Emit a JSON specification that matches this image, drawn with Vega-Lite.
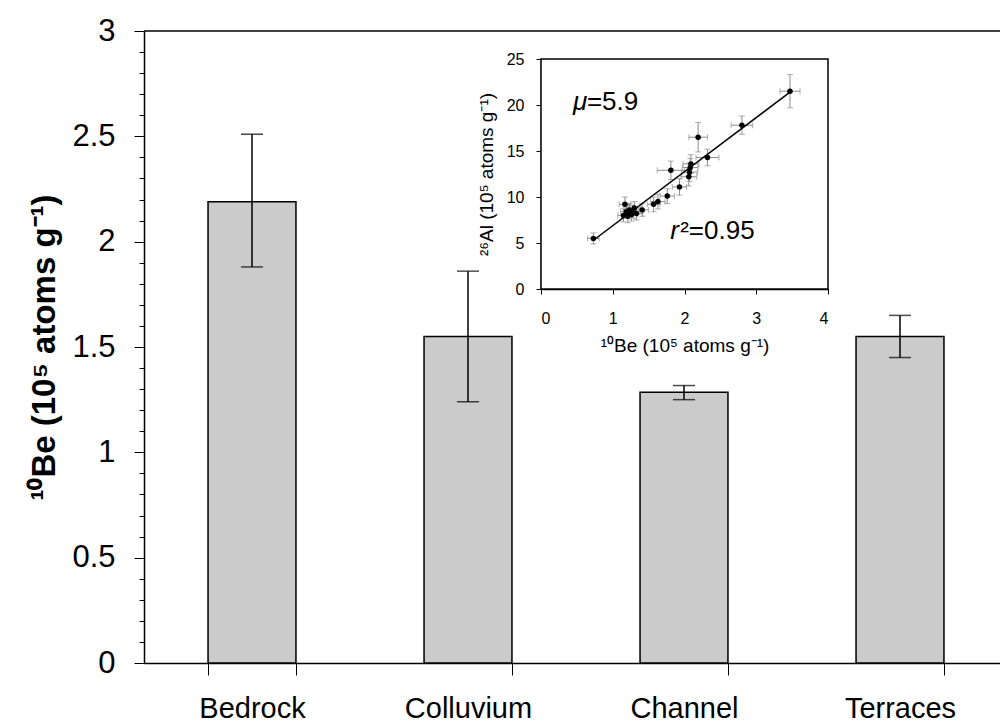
{
  "$schema": "https://vega.github.io/schema/vega-lite/v6.json",
  "width": 856,
  "height": 632,
  "autosize": {"type": "none"},
  "padding": {"left": 144, "top": 31, "right": 0, "bottom": 65},
  "background": "white",
  "config": {
    "view": {"stroke": null},
    "font": "Liberation Sans",
    "axis": {"grid": false, "domainColor": "black", "tickColor": "black", "labelColor": "black", "titleColor": "black", "labelFont": "Liberation Sans", "titleFont": "Liberation Sans"}
  },
  "datasets": {
    "sites": [
      {"Site": "Bedrock", "Be": 2.19, "lo": 1.88, "hi": 2.51},
      {"Site": "Colluvium", "Be": 1.55, "lo": 1.24, "hi": 1.86},
      {"Site": "Channel", "Be": 1.285, "lo": 1.25, "hi": 1.317},
      {"Site": "Terraces", "Be": 1.55, "lo": 1.45, "hi": 1.65}
    ],
    "pairs": [
      {"be": 0.73, "al": 5.5, "xe": 0.08, "ye": 0.6},
      {"be": 1.15, "al": 8.0, "xe": 0.08, "ye": 0.7},
      {"be": 1.17, "al": 9.2, "xe": 0.08, "ye": 0.8},
      {"be": 1.19, "al": 8.4, "xe": 0.08, "ye": 0.7},
      {"be": 1.21, "al": 7.9, "xe": 0.08, "ye": 0.7},
      {"be": 1.23, "al": 8.6, "xe": 0.08, "ye": 0.7},
      {"be": 1.26, "al": 8.1, "xe": 0.08, "ye": 0.7},
      {"be": 1.28, "al": 8.4, "xe": 0.09, "ye": 0.7},
      {"be": 1.30, "al": 8.8, "xe": 0.09, "ye": 0.7},
      {"be": 1.33, "al": 8.2, "xe": 0.09, "ye": 0.7},
      {"be": 1.41, "al": 8.6, "xe": 0.09, "ye": 0.7},
      {"be": 1.57, "al": 9.2, "xe": 0.09, "ye": 0.8},
      {"be": 1.63, "al": 9.5, "xe": 0.1, "ye": 0.8},
      {"be": 1.76, "al": 10.1, "xe": 0.1, "ye": 0.8},
      {"be": 1.81, "al": 12.9, "xe": 0.19, "ye": 1.0},
      {"be": 1.93, "al": 11.1, "xe": 0.1, "ye": 0.9},
      {"be": 2.06, "al": 12.2, "xe": 0.11, "ye": 1.0},
      {"be": 2.07, "al": 12.7, "xe": 0.11, "ye": 1.0},
      {"be": 2.08, "al": 13.2, "xe": 0.11, "ye": 1.0},
      {"be": 2.09, "al": 13.6, "xe": 0.11, "ye": 1.0},
      {"be": 2.19, "al": 16.5, "xe": 0.13, "ye": 1.6},
      {"be": 2.32, "al": 14.3, "xe": 0.16, "ye": 0.9},
      {"be": 2.80, "al": 17.8, "xe": 0.15, "ye": 1.0},
      {"be": 3.47, "al": 21.5, "xe": 0.14, "ye": 1.8}
    ]
  },
  "layer": [
    {
      "data": {"name": "sites"},
      "layer": [
        {
          "mark": {"type": "bar", "fill": "#cbcbcb", "stroke": "black", "strokeWidth": 1.5},
          "encoding": {
            "x": {
              "field": "Site", "type": "nominal", "sort": null,
              "scale": {"range": [0, 864], "paddingInner": 0.593, "paddingOuter": 0.2965},
              "axis": {"orient": "bottom", "title": null, "labelAngle": 0, "labelFontSize": 29, "labelPadding": 19, "tickSize": 12, "tickBand": "extent", "domainWidth": 1.5, "tickWidth": 1}
            },
            "y": {
              "field": "Be", "type": "quantitative",
              "scale": {"domain": [0, 3], "nice": false},
              "axis": {"orient": "left", "values": [0, 0.5, 1, 1.5, 2, 2.5, 3], "format": "~g", "labelFontSize": 31, "labelPadding": 19, "tickSize": 10, "title": "¹⁰Be (10⁵ atoms g⁻¹)", "titleFontSize": 33, "titleFontWeight": "bold", "titlePadding": 10, "domainWidth": 1.5}
            }
          }
        },
        {
          "mark": {"type": "errorbar", "ticks": {"size": 22, "thickness": 1.5, "color": "black"}, "rule": {"strokeWidth": 1.5, "color": "black"}},
          "encoding": {
            "x": {"field": "Site", "type": "nominal", "sort": null},
            "y": {"field": "lo", "type": "quantitative", "title": "¹⁰Be (10⁵ atoms g⁻¹)"},
            "y2": {"field": "hi"}
          }
        }
      ]
    },
    {
      "data": {"values": [{}]},
      "mark": {"type": "rule", "color": "black", "strokeWidth": 1.5},
      "encoding": {
        "y": {
          "datum": 3, "type": "quantitative",
          "scale": {"domain": [0, 3], "nice": false},
          "axis": {"orient": "left", "values": [0.1, 0.2, 0.3, 0.4, 0.6, 0.7, 0.8, 0.9, 1.1, 1.2, 1.3, 1.4, 1.6, 1.7, 1.8, 1.9, 2.1, 2.2, 2.3, 2.4, 2.6, 2.7, 2.8, 2.9], "labels": false, "domain": false, "tickSize": 5, "title": null}
        }
      }
    },
    {
      "data": {"name": "pairs"},
      "layer": [
        {
          "data": {"values": [{}]},
          "mark": {"type": "rect", "fill": "white", "stroke": "black", "strokeWidth": 1.5},
          "encoding": {
            "x": {
              "datum": 0, "type": "quantitative",
              "scale": {"domain": [0, 4], "range": [397, 684], "nice": false, "zero": false},
              "axis": {"orient": "bottom", "offset": -374, "values": [0, 1, 2, 3, 4], "format": "~g", "labelFontSize": 16, "labelPadding": 16, "tickSize": 5, "title": "¹⁰Be (10⁵ atoms g⁻¹)", "titleFontSize": 19, "titleFontWeight": "normal", "titlePadding": 10, "domainWidth": 1.5}
            },
            "x2": {"datum": 4},
            "y": {
              "datum": 0, "type": "quantitative",
              "scale": {"domain": [0, 25], "range": [258, 28], "nice": false, "zero": false},
              "axis": {"orient": "left", "offset": -397, "values": [0, 5, 10, 15, 20, 25], "format": "~g", "labelFontSize": 16, "labelPadding": 12, "tickSize": 5, "title": "²⁶Al (10⁵ atoms g⁻¹)", "titleFontSize": 19, "titleFontWeight": "normal", "titlePadding": 10, "domainWidth": 1.5}
            },
            "y2": {"datum": 25}
          }
        },
        {
          "mark": {"type": "errorbar", "ticks": {"size": 6}, "color": "#8c8c8c"},
          "encoding": {
            "x": {"field": "be", "type": "quantitative", "title": "¹⁰Be (10⁵ atoms g⁻¹)"},
            "xError": {"field": "xe"},
            "y": {"field": "al", "type": "quantitative", "title": "²⁶Al (10⁵ atoms g⁻¹)"}
          }
        },
        {
          "mark": {"type": "errorbar", "ticks": {"size": 6}, "color": "#8c8c8c"},
          "encoding": {
            "x": {"field": "be", "type": "quantitative", "title": "¹⁰Be (10⁵ atoms g⁻¹)"},
            "y": {"field": "al", "type": "quantitative", "title": "²⁶Al (10⁵ atoms g⁻¹)"},
            "yError": {"field": "ye"}
          }
        },
        {
          "data": {"values": [{"be": 0.73, "al": 5.3}, {"be": 3.47, "al": 21.4}]},
          "mark": {"type": "line", "color": "black", "strokeWidth": 1.5},
          "encoding": {
            "x": {"field": "be", "type": "quantitative", "title": "¹⁰Be (10⁵ atoms g⁻¹)"},
            "y": {"field": "al", "type": "quantitative", "title": "²⁶Al (10⁵ atoms g⁻¹)"}
          }
        },
        {
          "mark": {"type": "circle", "color": "black", "opacity": 1, "size": 30},
          "encoding": {
            "x": {"field": "be", "type": "quantitative", "title": "¹⁰Be (10⁵ atoms g⁻¹)"},
            "y": {"field": "al", "type": "quantitative", "title": "²⁶Al (10⁵ atoms g⁻¹)"}
          }
        },
        {
          "data": {"values": [{"t": "μ"}]},
          "mark": {"type": "text", "align": "left", "baseline": "alphabetic", "fontSize": 26, "fontStyle": "italic", "color": "black"},
          "encoding": {"x": {"datum": 0.446, "type": "quantitative"}, "y": {"datum": 19.46, "type": "quantitative"}, "text": {"field": "t"}}
        },
        {
          "data": {"values": [{"t": "=5.9"}]},
          "mark": {"type": "text", "align": "left", "baseline": "alphabetic", "fontSize": 26, "color": "black"},
          "encoding": {"x": {"datum": 0.64, "type": "quantitative"}, "y": {"datum": 19.46, "type": "quantitative"}, "text": {"field": "t"}}
        },
        {
          "data": {"values": [{"t": "r"}]},
          "mark": {"type": "text", "align": "left", "baseline": "alphabetic", "fontSize": 26, "fontStyle": "italic", "color": "black"},
          "encoding": {"x": {"datum": 1.8, "type": "quantitative"}, "y": {"datum": 5.43, "type": "quantitative"}, "text": {"field": "t"}}
        },
        {
          "data": {"values": [{"t": "²=0.95"}]},
          "mark": {"type": "text", "align": "left", "baseline": "alphabetic", "fontSize": 26, "color": "black"},
          "encoding": {"x": {"datum": 1.94, "type": "quantitative"}, "y": {"datum": 5.43, "type": "quantitative"}, "text": {"field": "t"}}
        }
      ]
    }
  ],
  "resolve": {
    "scale": {"x": "independent", "y": "independent"},
    "axis": {"x": "independent", "y": "independent"}
  }
}
